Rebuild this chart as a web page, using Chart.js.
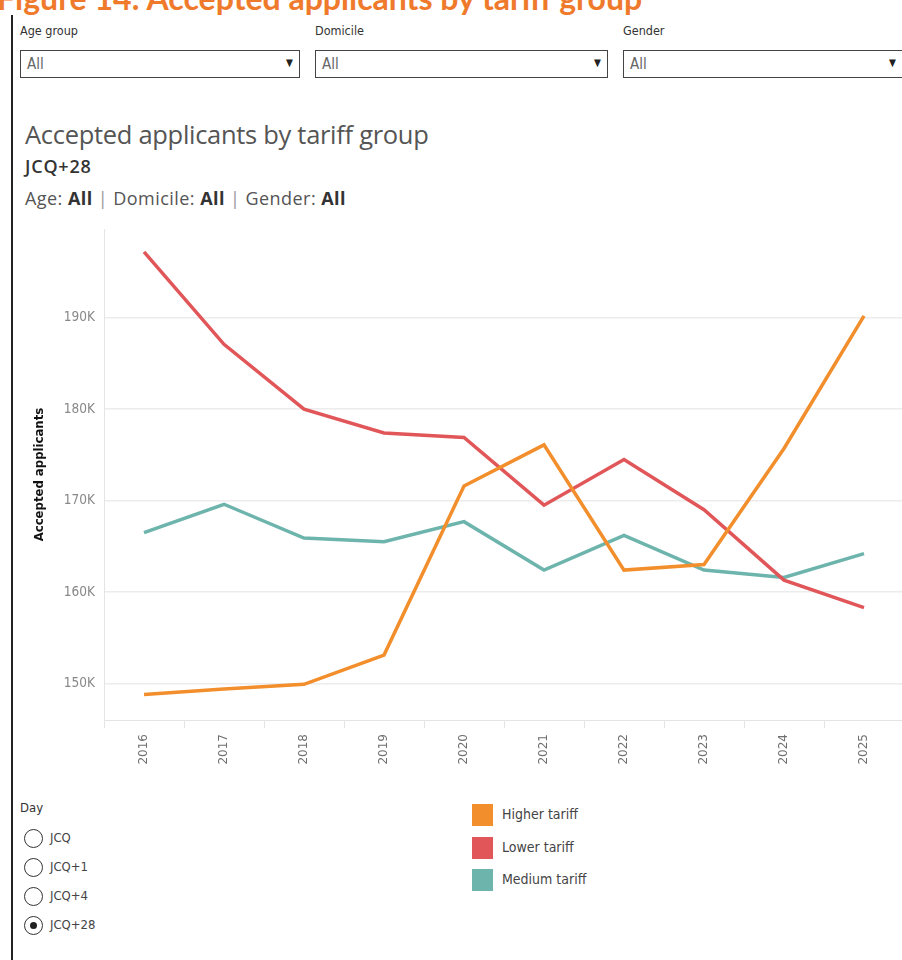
<!DOCTYPE html>
<html>
<head>
<meta charset="utf-8">
<script src="https://cdn.jsdelivr.net/npm/chart.js@4"></script>
<style>
  html, body { margin: 0; padding: 0; background: #fff; overflow: hidden; }
  body { width: 902px; height: 960px; position: relative; font-family: "Liberation Sans Narrow", "DejaVu Sans Condensed", "Roboto", sans-serif; }
  .fig-title { position: absolute; left: -3px; top: -22px; font-family: Lato, "Open Sans", sans-serif; font-weight: 700; font-size: 32px; color: #f07a2c; white-space: nowrap; }
  .frame { position: absolute; left: 11px; top: 15px; width: 2px; height: 945px; background: #222; }
  .flabel { position: absolute; top: 23px; font-size: 12.5px; color: #333; }
  .dropdown { position: absolute; top: 50px; height: 28px; border: 1.5px solid #444; box-sizing: border-box; }
  .dropdown span.val { position: absolute; left: 6px; top: 4px; font-size: 15px; color: #666; }
  .dropdown span.arr { position: absolute; right: 6px; top: 6px; font-size: 10px; color: #222; }
  .ctitle { position: absolute; left: 25px; top: 117px; font-family: "Open Sans", sans-serif; font-size: 25.5px; color: #555; white-space: nowrap; letter-spacing: -0.3px; }
  .csub { position: absolute; left: 25px; top: 154px; font-family: "Open Sans", sans-serif; font-size: 18px; color: #333; font-weight: 600; letter-spacing: 0.8px; }
  .cfilt { position: absolute; left: 25px; top: 186px; font-family: "Open Sans", sans-serif; font-size: 18px; color: #555; white-space: nowrap; letter-spacing: 0.45px; }
  .cfilt b { color: #333; font-weight: 700; }
  .cfilt .sep { color: #999; }
  #wrap { position: absolute; left: 0; top: 212px; width: 910px; height: 568px; }
  .day { position: absolute; left: 20px; top: 800px; font-size: 13px; color: #333; }
  .radio { position: absolute; left: 24px; font-size: 13px; color: #444; height: 19px; }
  .radio i { position: absolute; left: 0; top: 0; width: 19px; height: 19px; border: 1.5px solid #333; border-radius: 50%; box-sizing: border-box; }
  .radio i.on::after { content: ""; position: absolute; left: 4.5px; top: 4.5px; width: 7px; height: 7px; border-radius: 50%; background: #222; }
  .radio span { position: absolute; left: 26px; top: 1px; white-space: nowrap; }
  .leg { position: absolute; left: 472px; font-size: 14px; color: #444; height: 22px; }
  .leg i { position: absolute; left: 0; top: 0; width: 21px; height: 22px; }
  .leg span { position: absolute; left: 30px; top: 2px; white-space: nowrap; }
</style>
</head>
<body>
<div class="fig-title">Figure 14: Accepted applicants by tariff group</div>
<div class="frame"></div>

<div class="flabel" style="left:20px">Age group</div>
<div class="flabel" style="left:315px">Domicile</div>
<div class="flabel" style="left:623px">Gender</div>
<div class="dropdown" style="left:20px;width:280px"><span class="val">All</span><span class="arr">&#9660;</span></div>
<div class="dropdown" style="left:315px;width:293px"><span class="val">All</span><span class="arr">&#9660;</span></div>
<div class="dropdown" style="left:623px;width:280px"><span class="val">All</span><span class="arr">&#9660;</span></div>

<div class="ctitle">Accepted applicants by tariff group</div>
<div class="csub">JCQ+28</div>
<div class="cfilt">Age: <b>All</b> <span class="sep">|</span> Domicile: <b>All</b> <span class="sep">|</span> Gender: <b>All</b></div>

<div id="wrap"><canvas id="chart"></canvas></div>

<div class="day">Day</div>
<div id="radios"></div>
<div id="legend"></div>

<script>
// Admission years shown on the category axis
const years = ['2016', '2017', '2018', '2019', '2020', '2021', '2022', '2023', '2024', '2025'];

// Accepted applicants at JCQ+28, by tariff group
const higherTariff = [148800, 149400, 149900, 153100, 171600, 176100, 162400, 163000, 175700, 190200];
const lowerTariff  = [197200, 187100, 180000, 177400, 176900, 169500, 174500, 169000, 161300, 158300];
const mediumTariff = [166500, 169600, 165900, 165500, 167700, 162400, 166200, 162400, 161600, 164200];

const seriesNames = ['Higher tariff', 'Lower tariff', 'Medium tariff'];
const seriesColors = ['#f28e2b', '#e15759', '#6db4ac'];

// Value axis gridlines
const yTicks = [150000, 160000, 170000, 180000, 190000];

const dayOptions = ['JCQ', 'JCQ+1', 'JCQ+4', 'JCQ+28'];
const selectedDay = 'JCQ+28';

// Day selector
const radios = document.getElementById('radios');
dayOptions.forEach((d, i) => {
  const el = document.createElement('div');
  el.className = 'radio';
  el.style.top = (829 + i * 29) + 'px';
  el.innerHTML = '<i class="' + (d === selectedDay ? 'on' : '') + '"></i><span>' + d + '</span>';
  radios.appendChild(el);
});

// Colour legend
const legend = document.getElementById('legend');
seriesNames.forEach((n, i) => {
  const el = document.createElement('div');
  el.className = 'leg';
  el.style.top = (804 + i * 32.5) + 'px';
  el.innerHTML = '<i style="background:' + seriesColors[i] + '"></i><span>' + n + '</span>';
  legend.appendChild(el);
});

const seriesData = [higherTariff, lowerTariff, mediumTariff];

new Chart(document.getElementById('chart'), {
  type: 'line',
  data: {
    labels: years,
    datasets: seriesNames.map((n, i) => ({
      label: n,
      data: seriesData[i],
      borderColor: seriesColors[i],
      backgroundColor: seriesColors[i],
      borderWidth: 3.5,
      pointRadius: 0,
      tension: 0,
      fill: false
    }))
  },
  options: {
    responsive: true,
    maintainAspectRatio: false,
    animation: false,
    layout: { padding: { top: 0, right: 6, left: 0, bottom: 0 } },
    plugins: { legend: { display: false }, tooltip: { enabled: false } },
    scales: {
      x: {
        type: 'category',
        offset: true,
        grid: { offset: true, drawOnChartArea: false, drawTicks: true, tickLength: 8, color: '#e4e4e4', lineWidth: 1 },
        border: { display: true, color: '#e4e4e4', width: 1 },
        ticks: {
          minRotation: 90, maxRotation: 90, autoSkip: false, padding: 6,
          color: '#6f6f6f', font: { family: 'DejaVu Sans', size: 12 }
        },
        afterFit: (s) => { s.height = 60; }
      },
      y: {
        min: 146000,
        max: 199700,
        afterBuildTicks: (s) => { s.ticks = yTicks.map(v => ({ value: v })); },
        grid: { color: '#ececec', lineWidth: 1.5, drawTicks: false },
        border: { display: true, color: '#e4e4e4', width: 1 },
        ticks: {
          padding: 9,
          color: '#888',
          font: { family: '"Liberation Sans Narrow", "DejaVu Sans Condensed", sans-serif', size: 13.5 },
          callback: (v) => (v / 1000) + 'K'
        },
        title: {
          display: true,
          text: 'Accepted applicants',
          color: '#111',
          font: { family: '"DejaVu Sans Condensed", sans-serif', size: 13, weight: 'bold' },
          padding: { top: 32, bottom: 0 }
        },
        afterFit: (s) => { s.width = 104; }
      }
    }
  }
});
</script>
</body>
</html>
